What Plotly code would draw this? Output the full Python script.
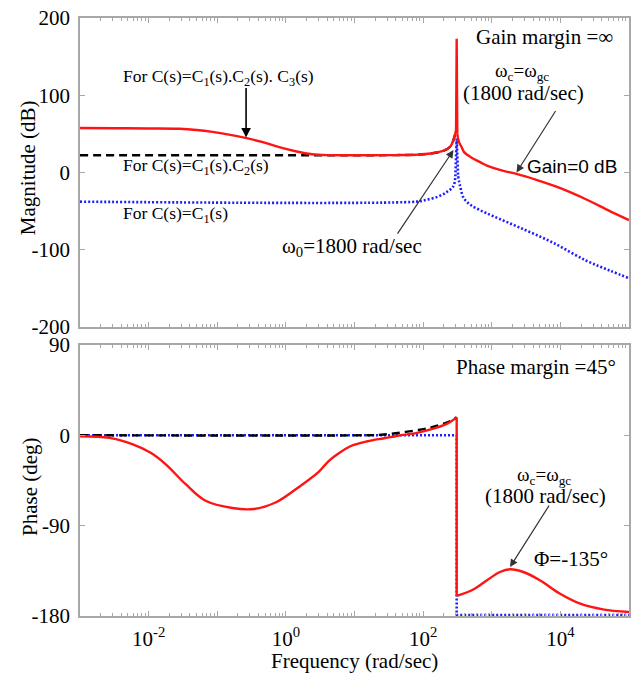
import numpy as np
import plotly.graph_objects as go

# ---------------- data ----------------
# exponents of frequency (log10 rad/sec) and values
red_mag_exp = [-3.0, -2.5, -2.0, -1.55, -1.3, -1.07, -0.83, -0.59, -0.35, -0.11, 0.14, 0.38, 0.62,
               1.05, 1.6, 1.9, 2.11, 2.31, 2.40, 2.456, 2.480, 2.489, 2.498, 2.52, 2.56, 2.60,
               2.70, 2.85, 2.93, 3.17, 3.36, 3.65, 3.99, 4.38, 4.72, 5.0]
red_mag = [57.5, 57.3, 57.0, 56.6, 55.0, 52.5, 49.0, 44.7, 39.6, 33.1, 27.5, 23.6, 22.4,
           22.3, 22.5, 23.0, 24.5, 28.5, 34.0, 46.0, 55.0, 173.0, 50.0, 40.0, 33.0, 26.0,
           19.5, 12.5, 9.0, 2.0, -1.8, -9.5, -20.0, -35.0, -50.0, -61.6]

black_mag_exp = [-3.0, 0.62, 1.05, 1.6, 1.9, 2.11, 2.31, 2.40, 2.456, 2.480]
black_mag = [22.3, 22.3, 22.3, 22.5, 23.0, 24.5, 28.5, 34.0, 46.0, 55.0]

blue_mag_exp = [-3.0, 1.9, 2.02, 2.21, 2.35, 2.44, 2.47, 2.489, 2.51, 2.54, 2.59, 2.685,
                2.83, 3.02, 3.41, 3.89, 4.38, 4.72, 5.0]
blue_mag = [-37.8, -37.8, -36.0, -31.5, -25.0, -18.0, -5.0, 44.0, -5.0, -18.0, -33.0, -41.6,
            -48.8, -56.5, -71.5, -90.8, -114.3, -127.0, -137.0]

red_ph_exp = [-3.0, -2.57, -2.23, -1.97, -1.75, -1.46, -1.17, -0.78, -0.47, -0.15, 0.18, 0.47,
              0.62, 0.75, 0.94, 1.19, 1.43, 1.63, 1.91, 2.15, 2.30, 2.40, 2.489, 2.489,
              2.73, 2.93, 3.12, 3.27, 3.46, 3.70, 3.99, 4.28, 4.62, 5.0]
red_ph = [-1.0, -2.7, -9.2, -17.5, -29.0, -48.8, -65.3, -72.5, -73.5, -67.0, -52.0, -37.0,
          -26.0, -19.0, -11.0, -6.0, -3.0, -0.5, 2.3, 6.5, 10.0, 13.5, 17.8, -160.0,
          -153.6, -144.4, -136.2, -133.5, -136.2, -144.4, -157.6, -167.5, -173.4, -176.0]

black_ph_exp = [-3.0, 1.2, 1.39, 1.6, 1.87, 2.1, 2.26, 2.40, 2.489]
black_ph = [0.0, 0.0, 0.5, 2.0, 4.6, 7.5, 10.5, 14.0, 17.8]

blue_ph_exp = [-3.0, 2.489, 2.489, 5.0]
blue_ph = [0.0, 0.0, -179.0, -179.0]

major_exp = [-3, -2, -1, 0, 1, 2, 3, 4, 5]
x_tick_text = ['', '10<sup>-2</sup>', '', '10<sup>0</sup>', '', '10<sup>2</sup>', '', '10<sup>4</sup>', '']
mag_ticks = [-200, -100, 0, 100, 200]
mag_tick_text = ['-200', '-100', '0', '100', '200']
ph_ticks = [-180, -90, 0, 90]
ph_tick_text = ['-180', '-90', '0', '90']

RED = '#ff1414'
BLUE = '#1e1eff'
SERIF = 'Liberation Serif, Times New Roman, serif'
SANS = 'Liberation Sans, Arial, sans-serif'
FRAME = '#a8a8a8'


def w(e):
    return list(10.0 ** np.array(e, dtype=float))


fig = go.Figure()


def add(xe, yv, xa, ya, line, shape='linear'):
    fig.add_trace(go.Scatter(x=w(xe), y=yv, mode='lines', xaxis=xa, yaxis=ya,
                             line=dict(line, shape=shape, smoothing=1.0) if shape == 'spline'
                             else dict(line, shape=shape),
                             hoverinfo='skip'))


def add_pieces(xe, yv, xa, ya, line, cuts):
    # cuts: list of (start, end, shape) index ranges (inclusive end)
    for s, e, shp in cuts:
        add(xe[s:e + 1], yv[s:e + 1], xa, ya, line, shp)


blue_line = dict(color=BLUE, width=2.6, dash='2px,2px')
black_line = dict(color='black', width=2.4, dash='8px,5px')
red_line = dict(color=RED, width=2.4)

# magnitude
add_pieces(blue_mag_exp, blue_mag, 'x', 'y', blue_line,
           [(0, 6, 'spline'), (6, 8, 'linear'), (8, 18, 'spline')])
add_pieces(black_mag_exp, black_mag, 'x', 'y', black_line, [(0, 9, 'spline')])
add_pieces(red_mag_exp, red_mag, 'x', 'y', red_line,
           [(0, 20, 'spline'), (20, 22, 'linear'), (22, 35, 'spline')])
# phase
add_pieces(blue_ph_exp, blue_ph, 'x2', 'y2', blue_line, [(0, 3, 'linear')])
add_pieces(black_ph_exp, black_ph, 'x2', 'y2', black_line, [(0, 8, 'spline')])
add_pieces(red_ph_exp, red_ph, 'x2', 'y2', red_line,
           [(0, 22, 'spline'), (22, 23, 'linear'), (23, 33, 'spline')])

minor_vals = [k * 10.0 ** d for d in range(-3, 5) for k in range(2, 10)]

tfont = dict(family=SERIF, size=21, color='black')
common = dict(showline=True, linecolor=FRAME, linewidth=1.5, mirror='allticks', ticks='inside',
              ticklen=5, tickcolor=FRAME, tickwidth=1, showgrid=False, zeroline=False,
              tickfont=tfont)

xcommon = dict(common, type='log', range=[-3, 5], tickmode='array', tickvals=w(major_exp),
               ticktext=x_tick_text,
               minor=dict(tickmode='array', tickvals=minor_vals, ticks='inside', ticklen=3,
                          tickcolor=FRAME, showgrid=False))

PLOT_L, PLOT_R, PLOT_T, PLOT_B = 80, 631, 14, 616
W, H = 637, 678
pw, ph = PLOT_R - PLOT_L, PLOT_B - PLOT_T


def px(x):
    return (x - PLOT_L) / pw


def py(y):
    return (PLOT_B - y) / ph


fig.update_layout(
    width=W, height=H,
    margin=dict(l=PLOT_L, r=W - PLOT_R, t=PLOT_T, b=H - PLOT_B, pad=0),
    paper_bgcolor='white', plot_bgcolor='white', showlegend=False,
    font=dict(family=SERIF, color='black'),
    xaxis=dict(xcommon, domain=[0, 1], anchor='y', showticklabels=False),
    yaxis=dict(common, domain=[py(325), 1], anchor='x', range=[-200, 200], tickmode='array',
               tickvals=mag_ticks, ticktext=mag_tick_text, ticklabelstandoff=4),
    xaxis2=dict(xcommon, domain=[0, 1], anchor='y2', ticklabelstandoff=3),
    yaxis2=dict(common, domain=[0, py(343)], anchor='x2', range=[-180, 90], tickmode='array',
                tickvals=ph_ticks, ticktext=ph_tick_text, ticklabelstandoff=4),
)

ann = []


def text(t, x, y, size=21, xanchor='left', family=SERIF, angle=0):
    ann.append(dict(text=t, x=px(x), y=py(y), xref='paper', yref='paper', showarrow=False,
                    xanchor=xanchor, yanchor='middle', textangle=angle,
                    font=dict(family=family, size=size, color='black')))


def arrow(x, y, ax, ay, xref='x', yref='y', width=1.2, color='#333333', size=1.3):
    ann.append(dict(text='', x=x, y=y, xref=xref, yref=yref, ax=ax, ay=ay, showarrow=True,
                    arrowhead=2, arrowsize=size, arrowwidth=width, arrowcolor=color,
                    standoff=0, startstandoff=0))


# axis titles
text('Magnitude (dB)', 28, 165, xanchor='center', angle=-90)
text('Phase (deg)', 30, 486, xanchor='center', angle=-90)
text('Frequency (rad/sec)', 356, 661, xanchor='center')

# magnitude texts
text('For C(s)=C<sub>1</sub>(s).C<sub>2</sub>(s). C<sub>3</sub>(s)', 120.7, 74, size=17.5)
text('For C(s)=C<sub>1</sub>(s).C<sub>2</sub>(s)', 120.7, 163, size=17.5)
text('For C(s)=C<sub>1</sub>(s)', 120.7, 212, size=17.5)
text('ω<sub>0</sub>=1800 rad/sec', 281, 245, size=21)
text('Gain margin =∞', 475, 33, size=21)
text('ω<sub>c</sub>=ω<sub>gc</sub>', 524, 68, size=19, xanchor='center')
text('(1800 rad/sec)', 525, 90, size=21, xanchor='center')
text('Gain=0 dB', 526.7, 163.5, size=19, family=SANS)

# phase texts
text('Phase margin =45°', 455, 365, size=21)
text('ω<sub>c</sub>=ω<sub>gc</sub>', 546, 475, size=19, xanchor='center')
text('(1800 rad/sec)', 546.7, 495, size=21, xanchor='center')
text('Φ=-135°', 533.3, 559, size=21)

# arrows (head positions on the data axes; log axes take exponents)
arrow(-0.58, 45.3, 0, -51, width=1.6, color='black', size=1.2)
arrow(2.443, 29, -57, 85)
arrow(3.361, 0, 40, -63)
arrow(3.266, -131.3, 40, -63, xref='x2', yref='y2')

fig.update_layout(annotations=ann)
fig.write_html('out.html')
